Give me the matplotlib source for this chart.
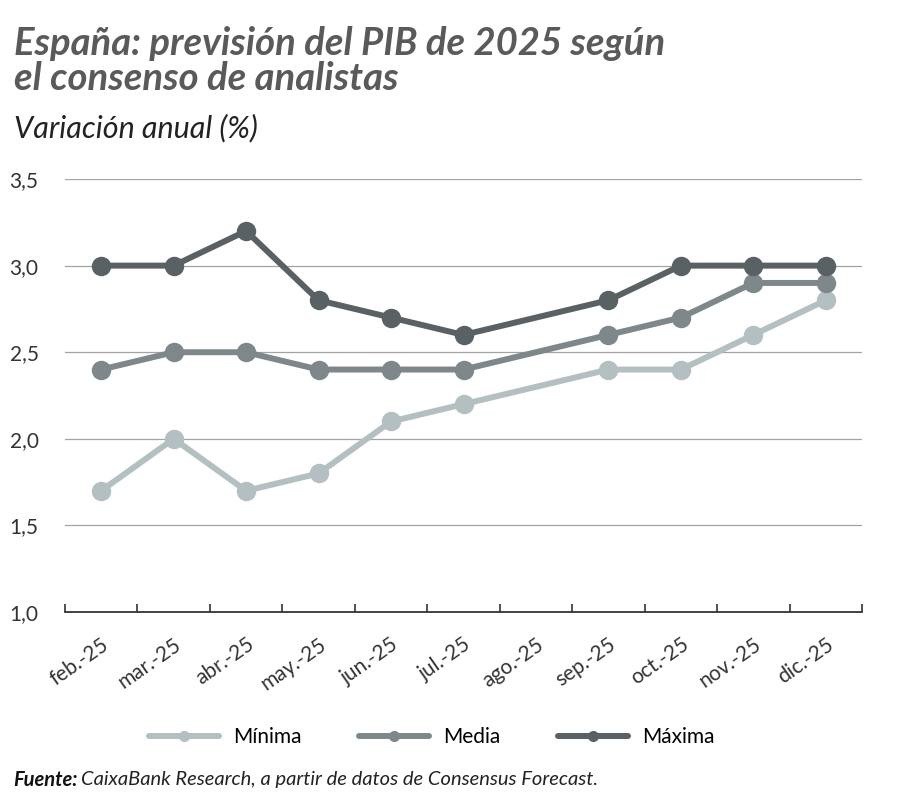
import numpy as np
import matplotlib
matplotlib.use("Agg")
import matplotlib.pyplot as plt
from matplotlib.lines import Line2D

# --- datos ---
meses = ["feb.-25", "mar.-25", "abr.-25", "may.-25", "jun.-25", "jul.-25",
         "ago.-25", "sep.-25", "oct.-25", "nov.-25", "dic.-25"]
# ago.-25 sin dato
meses_con_dato = ["feb.-25", "mar.-25", "abr.-25", "may.-25", "jun.-25", "jul.-25",
                  "sep.-25", "oct.-25", "nov.-25", "dic.-25"]
minima = [1.7, 2.0, 1.7, 1.8, 2.1, 2.2, 2.4, 2.4, 2.6, 2.8]
media = [2.4, 2.5, 2.5, 2.4, 2.4, 2.4, 2.6, 2.7, 2.9, 2.9]
maxima = [3.0, 3.0, 3.2, 2.8, 2.7, 2.6, 2.8, 3.0, 3.0, 3.0]
yticks = [1.0, 1.5, 2.0, 2.5, 3.0, 3.5]

COL_MIN = "#b3bfc1"
COL_MED = "#7e8789"
COL_MAX = "#5a6164"

plt.rcParams['font.family'] = ['Lato', 'DejaVu Sans']

fig = plt.figure(figsize=(9, 8.09), dpi=100)
ax = fig.add_axes([0.0722, 0.2435, 0.9578 - 0.0722, 0.7787 - 0.2435])

x = [meses.index(m) for m in meses_con_dato]
for serie, col in [(minima, COL_MIN), (media, COL_MED), (maxima, COL_MAX)]:
    ax.plot(x, serie, color=col, lw=4.3, marker="o", markersize=14,
            markeredgewidth=0, solid_capstyle="round", zorder=3)

ax.set_xlim(-0.5, len(meses) - 0.5)
ax.set_ylim(1.0, 3.5)

# rejilla
for y in yticks[1:]:
    ax.axhline(y, color="#a3a3a3", lw=0.9, zorder=1)

for s in ["top", "right", "left"]:
    ax.spines[s].set_visible(False)
ax.spines["bottom"].set_color("#333333")
ax.spines["bottom"].set_linewidth(1.3)

ax.set_yticks(yticks)
ax.set_yticklabels([f"{v:.1f}".replace(".", ",") for v in yticks],
                   fontsize=15, color="#333333")
ax.tick_params(axis="y", length=0, pad=19)

ax.set_xticks(np.arange(len(meses)))
ax.set_xticklabels(meses, rotation=35, ha="right", rotation_mode="anchor",
                   fontsize=15, color="#333333")
ax.tick_params(axis="x", which="major", length=0, pad=16)
ax.set_xticks(np.arange(len(meses) + 1) - 0.5, minor=True)
ax.tick_params(axis="x", which="minor", direction="in", length=6,
               width=1.2, color="#333333")

# títulos
titulo = dict(fontsize=27.5, fontweight="bold", fontstyle="italic",
              color="#5a5a5a", va="baseline", ha="left")
fig.text(0.015, 1 - 55 / 809, "España: previsión del PIB de 2025 según", **titulo)
fig.text(0.015, 1 - 90 / 809, "el consenso de analistas", **titulo)
fig.text(0.015, 1 - 137 / 809, "Variación anual (%)", fontsize=22, fontstyle="italic",
         color="#222222", va="baseline", ha="left")

# leyenda
handles = [Line2D([], [], color=c, lw=4.3, marker="o", markersize=7,
                  solid_capstyle="round")
           for c in (COL_MIN, COL_MED, COL_MAX)]
fig.legend(handles, ["Mínima", "Media", "Máxima"], loc="center",
           bbox_to_anchor=(0.48, 0.089), ncol=3, frameon=False,
           handlelength=3.35, handletextpad=0.7, columnspacing=2.75,
           prop={"size": 15})

# fuente
t1 = fig.text(0.015, 0.036, "Fuente:", fontsize=14.5, fontweight="bold",
              fontstyle="italic", color="#111111", va="center")
fig.canvas.draw()
bb = t1.get_window_extent()
fig.text(bb.x1 / fig.bbox.width + 0.003, 0.036,
         "CaixaBank Research, a partir de datos de Consensus Forecast.",
         fontsize=14.5, fontstyle="italic", color="#222222", va="center")

fig.savefig("out.png", dpi=100)
